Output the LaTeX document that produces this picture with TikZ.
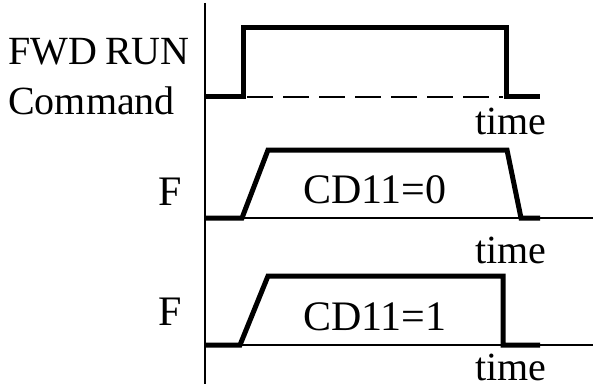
\documentclass[tikz,border=0pt]{standalone}
\usepackage{fontspec}
\setmainfont{Liberation Serif}
\begin{document}
\begin{tikzpicture}[x=1pt,y=-1pt,
  sig/.style={line width=5pt,line join=miter,line cap=butt},
  thin/.style={line width=1.4pt},
  lbl/.style={inner sep=0pt,font=\fontsize{40}{48}\selectfont},
  big/.style={inner sep=0pt,font=\fontsize{42}{50}\selectfont}]
\useasboundingbox (0,0) rectangle (593,390);
% axis
\draw[thin] (205,3) -- (205,384);
% trace 1
\draw[thin,dash pattern=on 26pt off 10pt] (247,97) -- (503,97);
\draw[sig] (205,97) -- (243,97) -- (243,28) -- (506,28) -- (506,97) -- (540,97);
% trace 2
\draw[thin] (242,218) -- (593,218);
\draw[sig] (205,218) -- (242,218) -- (268,150) -- (507,150) -- (521,218) -- (540,218);
% trace 3
\draw[thin] (240,345) -- (593,345);
\draw[sig] (205,345) -- (240,345) -- (268,276) -- (503,276) -- (503,345) -- (540,345);
% labels
\node[lbl,anchor=base west] (fwd) at (8,65) {FWD\hspace{-2pt} RUN};
\node[lbl,anchor=base west] (cmd) at (8,115) {Command};
\node[big,anchor=base west] (f1) at (158,205) {F};
\node[big,anchor=base west] (f2) at (158,325) {F};
\node[big,anchor=base west] (cd0) at (303,203) {CD11=0};
\node[big,anchor=base west] (cd1) at (303,330) {CD11=1};
\node[lbl,anchor=base] (t1) at (511,135) {time};
\node[lbl,anchor=base] (t2) at (511,263) {time};
\node[lbl,anchor=base] (t3) at (511,380) {time};
\end{tikzpicture}
\end{document}
